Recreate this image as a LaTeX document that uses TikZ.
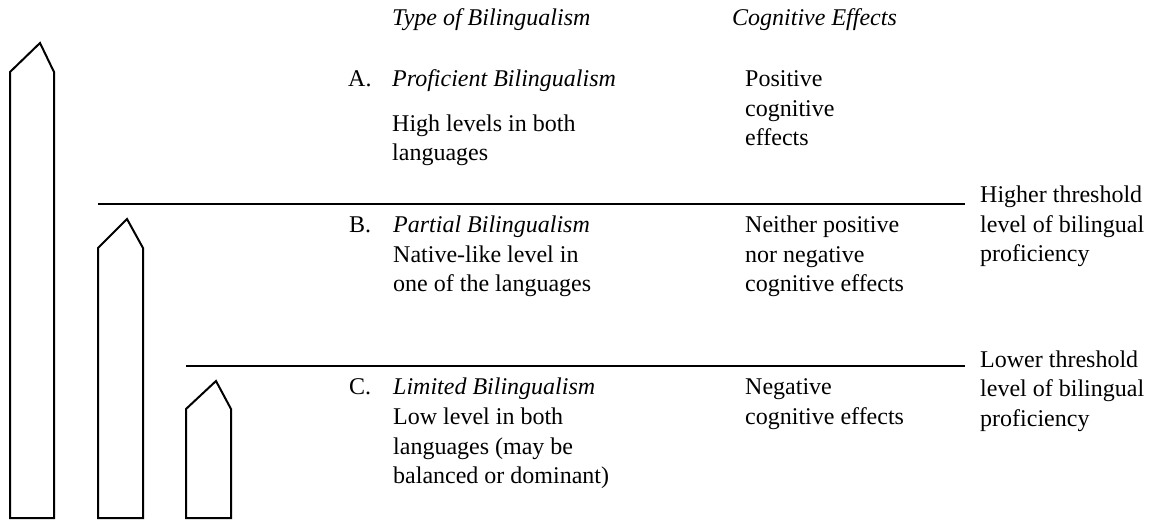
\documentclass[tikz,border=0pt]{standalone}
\usepackage{fontspec}
\setmainfont{Liberation Serif}
\newcommand{\mylines}[1]{\begin{tabular}[t]{@{}l@{}}#1\end{tabular}}
\begin{document}
\begin{tikzpicture}[x=1pt,y=-1pt,
  pillar/.style={draw=black,line width=2pt,line join=miter},
  threshold/.style={draw=black,line width=2.6pt},
  txt/.style={anchor=base west,inner sep=0pt,font=\fontsize{24}{29.5}\selectfont},
]
\useasboundingbox (0,0) rectangle (1157,529);
% pillars
\draw[pillar] (10,518) -- (10,72) -- (40,43) -- (54,72) -- (54,518) -- cycle;
\draw[pillar] (98,518) -- (98,248) -- (127,219) -- (143,248) -- (143,518) -- cycle;
\draw[pillar] (186,518) -- (186,409) -- (216,381) -- (231,409) -- (231,518) -- cycle;
% thresholds
\coordinate (h1) at (98,204);
\coordinate (h2) at (965,204);
\coordinate (l1) at (186,366);
\coordinate (l2) at (965,366);
\draw[threshold] (h1) -- (h2);
\draw[threshold] (l1) -- (l2);
% headers
\node[txt] (htype) at (392,26) {\textit{Type of Bilingualism}};
\node[txt] (heff) at (732,26) {\textit{Cognitive Effects}};
% row A
\node[txt] (la) at (348,87) {A.};
\node[txt] (ta) at (392,87) {\mylines{\textit{Proficient Bilingualism}\\[15pt]High levels in both\\languages}};
\node[txt] (ea) at (745,87) {\mylines{Positive\\cognitive\\effects}};
% row B
\node[txt] (lb) at (349,233) {B.};
\node[txt] (tb) at (393,233) {\mylines{\textit{Partial Bilingualism}\\Native-like level in\\one of the languages}};
\node[txt] (eb) at (745,233) {\mylines{Neither positive\\nor negative\\cognitive effects}};
% row C
\node[txt] (lc) at (349,395) {C.};
\node[txt] (tc) at (393,395) {\mylines{\textit{Limited Bilingualism}\\Low level in both\\languages (may be\\balanced or dominant)}};
\node[txt] (ec) at (745,395) {\mylines{Negative\\cognitive effects}};
% threshold labels
\node[txt] (hl) at (980,203) {\mylines{Higher threshold\\level of bilingual\\proficiency}};
\node[txt] (ll) at (980,367) {\mylines{Lower threshold\\level of bilingual\\proficiency}};
\end{tikzpicture}
\end{document}
